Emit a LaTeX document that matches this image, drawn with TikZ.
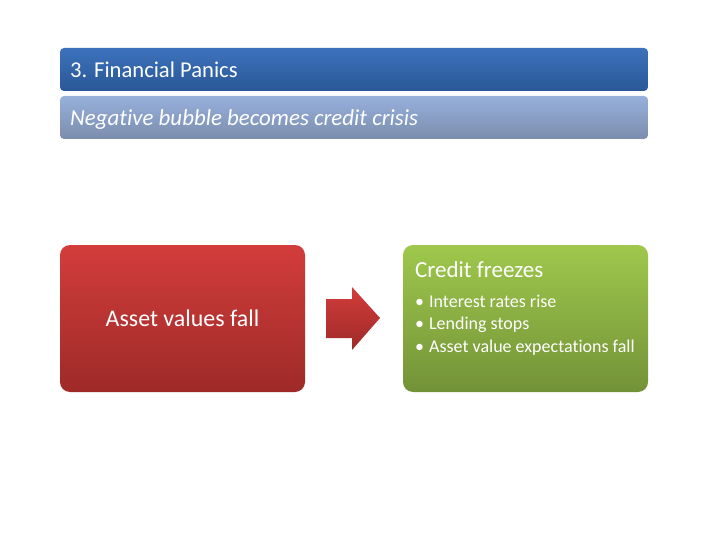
\documentclass[tikz,border=0pt]{standalone}
\usepackage{fontspec}
\setmainfont{Carlito}[Ligatures={NoCommon}]
\begin{document}
\begin{tikzpicture}[x=1pt,y=-1pt,
  bar/.style={rounded corners=4pt, draw=none},
  box/.style={rounded corners=10pt, draw=none},
  txt/.style={text=white, inner sep=0pt, anchor=base west}]
\useasboundingbox (0,0) rectangle (720,540);
\definecolor{blueT}{HTML}{3C72BC}
\definecolor{blueB}{HTML}{2A5796}
\definecolor{lblueT}{HTML}{97B0DC}
\definecolor{lblueB}{HTML}{7B8DAD}
\definecolor{redT}{HTML}{D23D3B}
\definecolor{redB}{HTML}{9E2A28}
\definecolor{greenT}{HTML}{9FC84C}
\definecolor{greenB}{HTML}{739238}
% title bars
\shade[bar, top color=blueT, bottom color=blueB] (60,48) rectangle (648,91);
\node[txt, font=\fontsize{22.6}{26}\selectfont] (title) at (70,77.5) {3. Financial Panics};
\shade[bar, top color=lblueT, bottom color=lblueB] (60,96) rectangle (648,139);
\node[txt, font=\fontsize{22.9}{26}\selectfont\itshape] (sub) at (70,125.5) {Negative bubble becomes credit crisis};
% red box
\shade[box, top color=redT, bottom color=redB] (60,245) rectangle (305,392);
\node[text=white, inner sep=0pt, anchor=base, font=\fontsize{23.9}{28}\selectfont] (asset) at (182.5,326.5) {Asset values fall};
% arrow
\shade[top color=redT, bottom color=redB]
  (326,299) -- (352,299) -- (352,287) -- (380,318) -- (352,350) -- (352,338) -- (326,338) -- cycle;
% green box
\shade[box, top color=greenT, bottom color=greenB] (403,245) rectangle (648,392);
\node[txt, font=\fontsize{23}{26}\selectfont] (cf) at (415,277) {Credit freezes};
\node[txt, font=\fontsize{18}{20}\selectfont] (b1) at (415,307) {\textbullet\hspace{5pt}Interest rates rise};
\node[txt, font=\fontsize{18}{20}\selectfont] (b2) at (415,329.5) {\textbullet\hspace{5pt}Lending stops};
\node[txt, font=\fontsize{18}{20}\selectfont] (b3) at (415,352) {\textbullet\hspace{5pt}Asset value expectations fall};
\end{tikzpicture}
\end{document}
